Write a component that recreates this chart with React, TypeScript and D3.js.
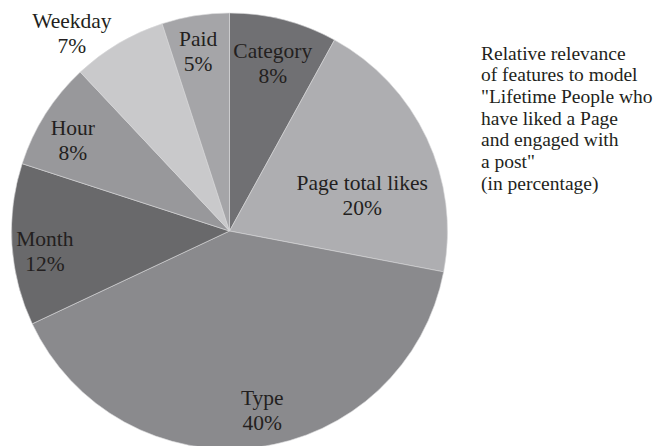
import React from "react";
import * as d3 from "d3";

const categories = ["Category", "Page total likes", "Type", "Month", "Hour", "Weekday", "Paid"];
const values = [8, 20, 40, 12, 8, 7, 5];
const colors = ["#707073", "#aeaeb1", "#8a8a8d", "#69696b", "#98989b", "#c9c9cb", "#a5a5a8"];
const noteLines = [
  "Relative relevance",
  "of features to model",
  "\"Lifetime People who",
  "have liked a Page",
  "and engaged with",
  "a post\"",
  "(in percentage)",
];
// label nudges relative to arc centroid (layout only)
const labelNudge: Record<string, [number, number]> = {
  "Category": [-2, 9],
  "Page total likes": [-32, 42],
  "Type": [10, -1],
  "Month": [-3, 9],
  "Hour": [-3, 7],
  "Weekday": [-65, -41],
  "Paid": [-3, 0],
};

export default function App() {
  const W = 670, H = 446;
  const cx = 229.5, cy = 231, R = 218;
  const data = categories.map((c, i) => ({ name: c, value: values[i], color: colors[i] }));
  const pie = d3.pie<any>().sort(null).value((d: any) => d.value).startAngle(0).endAngle(2 * Math.PI);
  const arcs = pie(data);
  const arc = d3.arc<any>().innerRadius(0).outerRadius(R);
  const labelArc = d3.arc<any>().innerRadius(182).outerRadius(182);
  const font = "Liberation Serif, Times New Roman, serif";
  return (
    <svg width={W} height={H} style={{ position: "absolute", left: 0, top: 0, background: "#fff" }}>
      <g transform={`translate(${cx},${cy})`}>
        {arcs.map((a, i) => (
          <path key={i} d={arc(a) as string} fill={a.data.color} stroke="#d8d8da" strokeWidth={0.6} />
        ))}
        {arcs.map((a, i) => {
          const [x, y] = labelArc.centroid(a);
          const [dx, dy] = labelNudge[a.data.name] || [0, 0];
          return (
            <text key={i} x={x + dx} y={y + dy} textAnchor="middle" style={{ fontFamily: font }} fontSize={21.5} fill="#231f20">
              <tspan x={x + dx} dy={-12.25} dominantBaseline="central">{a.data.name}</tspan>
              <tspan x={x + dx} dy={24.5} dominantBaseline="central">{a.data.value}%</tspan>
            </text>
          );
        })}
      </g>
      <g style={{ fontFamily: font }} fontSize={19.5} fill="#231f20">
        {noteLines.map((t, i) => (
          <text key={i} x={481} y={53 + i * 21.7} dominantBaseline="central">{t}</text>
        ))}
      </g>
    </svg>
  );
}
